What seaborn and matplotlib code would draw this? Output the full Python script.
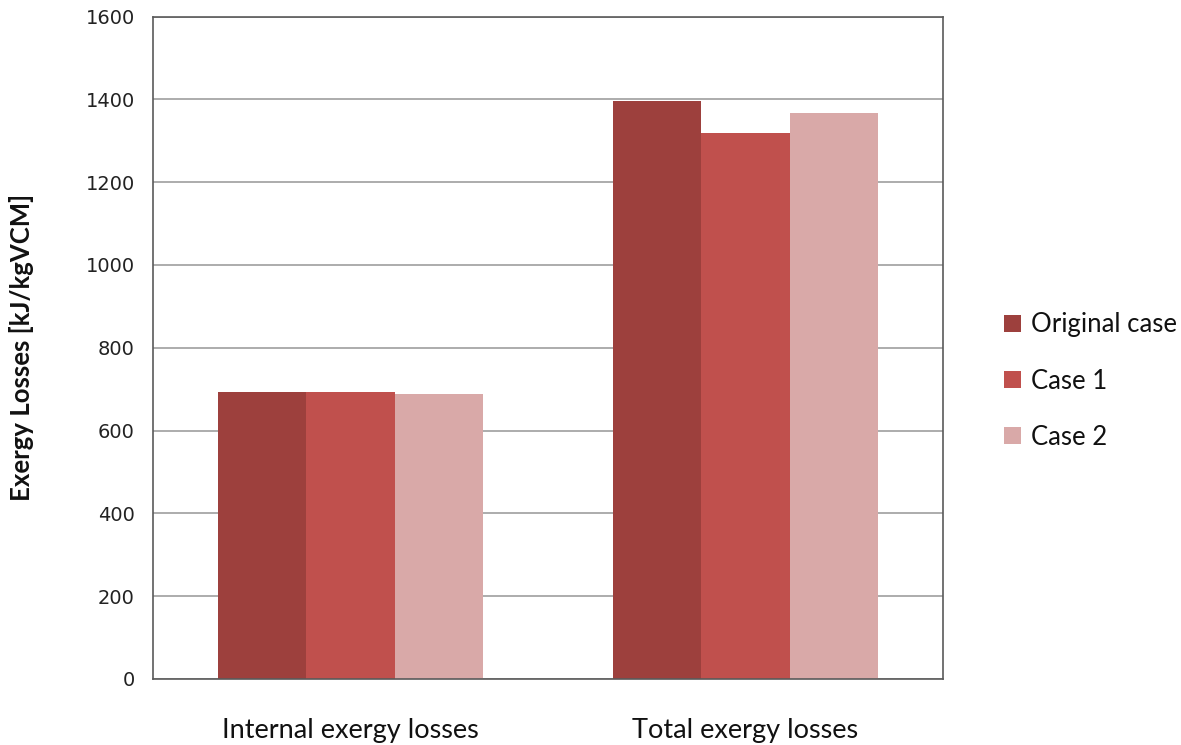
import matplotlib
matplotlib.use("Agg")
import matplotlib.pyplot as plt
from matplotlib.patches import Patch
import seaborn as sns
import pandas as pd

categories = ["Internal exergy losses", "Total exergy losses"]
series = ["Original case", "Case 1", "Case 2"]
original_case = [693, 1397]
case_1 = [693, 1318]
case_2 = [688, 1368]
colors = ["#9D403D", "#C0504D", "#D9A9A8"]
y_ticks = [0, 200, 400, 600, 800, 1000, 1200, 1400, 1600]

rows = []
for name, vals in zip(series, [original_case, case_1, case_2]):
    for cat, v in zip(categories, vals):
        rows.append({"category": cat, "series": name, "value": v})
df = pd.DataFrame(rows)

sns.set_theme(style="white")
plt.rcParams["font.family"] = ["DejaVu Sans"]

W, H = 1181, 745
fig = plt.figure(figsize=(W / 100, H / 100), dpi=100)
ax = fig.add_axes([153 / W, 1 - 679 / H, 790 / W, 662.5 / H])

sns.barplot(data=df, x="category", y="value", hue="series",
            order=categories, hue_order=series, palette=colors,
            width=0.672, gap=0, saturation=1, linewidth=0,
            errorbar=None, legend=False, ax=ax, zorder=2)

ax.set_xlim(-0.5, 1.5)
ax.set_ylim(0, 1600)
ax.set_yticks(y_ticks)
ax.yaxis.grid(True, color="#9E9E9E", linewidth=1.2, zorder=0)
ax.set_axisbelow(True)
for s in ax.spines.values():
    s.set_color("#5A5A5A")
    s.set_linewidth(1.2)

ax.tick_params(axis="y", labelsize=14, colors="#222222", length=0, pad=13)
ax.tick_params(axis="x", length=0, pad=28)
for lab in ax.get_xticklabels():
    lab.set_fontfamily("Lato")
    lab.set_fontsize(19.5)
    lab.set_color("#111111")
ax.set_xlabel("")
ax.set_ylabel("")
fig.text(22 / W, 1 - 347 / H, "Exergy Losses [kJ/kgVCM]", rotation=90,
         ha="center", va="center", fontfamily="Lato", fontweight="bold",
         fontsize=18.5, color="#111111")

handles = [Patch(facecolor=c, edgecolor="none") for c in colors]
fig.legend(handles, series, loc="center left",
           bbox_to_anchor=(991 / W, 1 - 381 / H),
           frameon=False, prop={"family": "Lato", "size": 18.5},
           handlelength=0.65, handleheight=0.65, handletextpad=0.4,
           labelspacing=1.22, labelcolor="#111111", borderpad=0)

fig.savefig("out.png", dpi=100, facecolor="white")
